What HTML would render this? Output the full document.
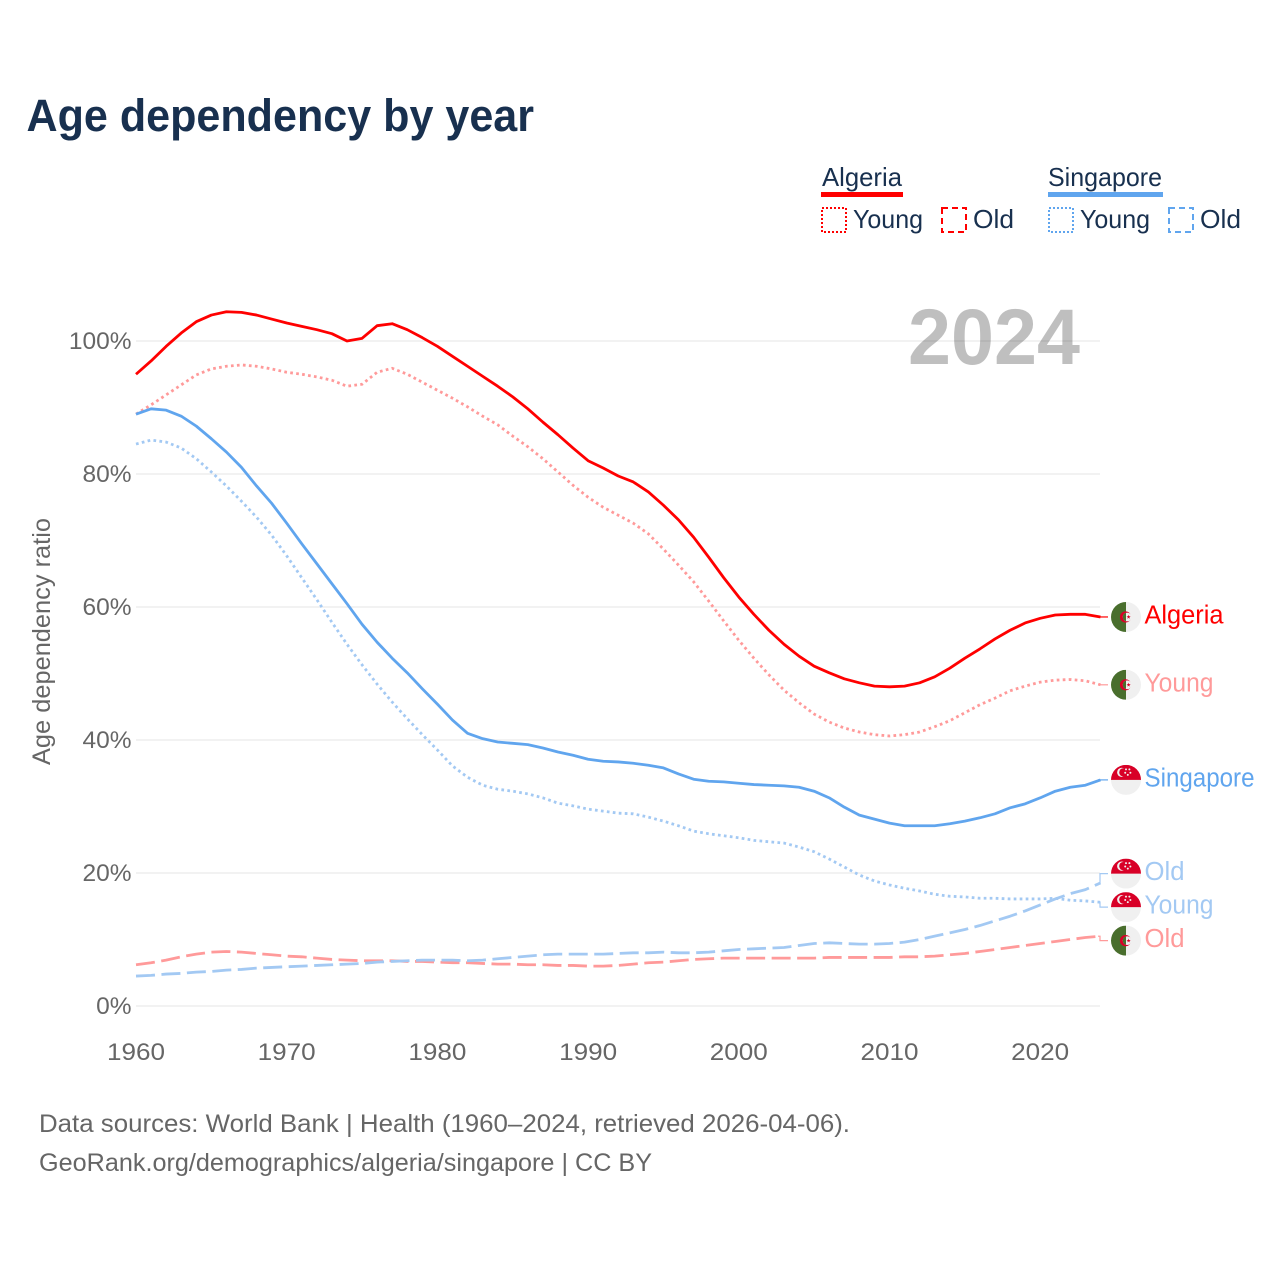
<!DOCTYPE html>
<html lang="en">
<head>
<meta charset="utf-8">
<title>Age dependency by year</title>
<style>
html,body{margin:0;padding:0;background:#fff}
svg{display:block}
text{font-family:"Liberation Sans",sans-serif}
</style>
</head>
<body>
<svg id="chart" width="1280" height="1280" viewBox="0 0 1280 1280" xmlns="http://www.w3.org/2000/svg">
<defs>
<clipPath id="flag-clip"><circle cx="0" cy="0" r="15"></circle></clipPath>
</defs>
<text x="26.5" y="131" font-size="45" font-weight="700" fill="#18304f" textLength="507.5" lengthAdjust="spacingAndGlyphs">Age dependency by year</text>

<g>
<text x="822" y="186" font-size="26" fill="#18304f" textLength="80" lengthAdjust="spacingAndGlyphs">Algeria</text>
<rect x="821" y="192" width="82" height="5" fill="#ff0000"></rect>
<rect x="822" y="208" width="24" height="24" fill="none" stroke="#ff0000" stroke-width="2" stroke-dasharray="2 2"></rect>
<text x="853" y="228" font-size="26" fill="#18304f" textLength="70" lengthAdjust="spacingAndGlyphs">Young</text>
<rect x="942" y="208" width="24" height="24" fill="none" stroke="#ff0000" stroke-width="2" stroke-dasharray="6 4"></rect>
<text x="973" y="228" font-size="26" fill="#18304f" textLength="41" lengthAdjust="spacingAndGlyphs">Old</text>

<text x="1048" y="186" font-size="26" fill="#18304f" textLength="114" lengthAdjust="spacingAndGlyphs">Singapore</text>
<rect x="1048" y="192" width="115" height="5" fill="#60a5ee"></rect>
<rect x="1049" y="208" width="24" height="24" fill="none" stroke="#60a5ee" stroke-width="2" stroke-dasharray="2 2"></rect>
<text x="1080" y="228" font-size="26" fill="#18304f" textLength="70" lengthAdjust="spacingAndGlyphs">Young</text>
<rect x="1169" y="208" width="24" height="24" fill="none" stroke="#60a5ee" stroke-width="2" stroke-dasharray="6 4"></rect>
<text x="1200" y="228" font-size="26" fill="#18304f" textLength="41" lengthAdjust="spacingAndGlyphs">Old</text>
</g>

<g id="grid"></g>
<g id="yticks"></g>
<g id="xticks"></g>
<text transform="translate(50,641.5) rotate(-90)" text-anchor="middle" font-size="25" fill="#666666" textLength="247" lengthAdjust="spacingAndGlyphs">Age dependency ratio</text>
<text x="908" y="364" font-size="79" font-weight="700" fill="#000000" fill-opacity="0.25" textLength="172" lengthAdjust="spacingAndGlyphs">2024</text>
<g id="series"></g>
<g id="labels"></g>

<text x="39" y="1132" font-size="25" fill="#666666" textLength="811" lengthAdjust="spacingAndGlyphs">Data sources: World Bank | Health (1960–2024, retrieved 2026-04-06).</text>
<text x="39" y="1171" font-size="25" fill="#666666" textLength="613" lengthAdjust="spacingAndGlyphs">GeoRank.org/demographics/algeria/singapore | CC BY</text>
</svg>

<script>
const firstYear = 1960;
const yTickValues = [0, 20, 40, 60, 80, 100];
const xTickValues = [1960, 1970, 1980, 1990, 2000, 2010, 2020];

const algeriaTotal = [95.0,97.0,99.2,101.2,102.9,103.9,104.4,104.3,103.9,103.3,102.7,102.2,101.7,101.1,100.0,100.4,102.3,102.6,101.7,100.5,99.2,97.7,96.2,94.7,93.2,91.6,89.8,87.8,85.9,83.9,82.0,80.9,79.7,78.8,77.3,75.3,73.1,70.5,67.5,64.4,61.5,58.9,56.5,54.4,52.6,51.1,50.1,49.2,48.6,48.1,48.0,48.1,48.6,49.5,50.8,52.3,53.7,55.2,56.5,57.6,58.3,58.8,58.9,58.9,58.5];
const algeriaYoung = [89.0,90.4,91.9,93.4,94.9,95.8,96.2,96.4,96.2,95.8,95.3,95.0,94.6,94.1,93.2,93.5,95.3,95.9,95.0,93.8,92.6,91.4,90.1,88.7,87.4,85.7,84.1,82.3,80.3,78.3,76.5,75.0,73.8,72.6,71.0,68.7,66.3,63.8,60.9,57.9,55.0,52.3,49.8,47.5,45.6,43.9,42.7,41.8,41.2,40.8,40.6,40.8,41.2,42.0,42.9,44.1,45.3,46.3,47.4,48.1,48.7,49.0,49.1,48.9,48.3];
const algeriaOld = [6.2,6.5,6.9,7.4,7.8,8.1,8.2,8.1,7.9,7.7,7.5,7.4,7.2,7.0,6.9,6.8,6.8,6.8,6.7,6.7,6.6,6.5,6.5,6.4,6.3,6.3,6.2,6.2,6.1,6.1,6.0,6.0,6.1,6.3,6.5,6.6,6.8,7.0,7.1,7.2,7.2,7.2,7.2,7.2,7.2,7.2,7.3,7.3,7.3,7.3,7.3,7.4,7.4,7.5,7.7,7.9,8.2,8.5,8.8,9.1,9.4,9.7,10.0,10.3,10.5];
const singaporeTotal = [89.0,89.8,89.6,88.7,87.2,85.3,83.3,81.0,78.2,75.6,72.6,69.5,66.5,63.5,60.5,57.4,54.7,52.3,50.1,47.7,45.4,43.0,41.0,40.2,39.7,39.5,39.3,38.8,38.2,37.7,37.1,36.8,36.7,36.5,36.2,35.8,34.9,34.1,33.8,33.7,33.5,33.3,33.2,33.1,32.9,32.3,31.3,29.9,28.7,28.1,27.5,27.1,27.1,27.1,27.4,27.8,28.3,28.9,29.8,30.4,31.3,32.3,32.9,33.2,34.0];
const singaporeYoung = [84.5,85.1,84.8,83.9,82.3,80.3,78.2,75.9,73.5,70.8,67.7,64.4,61.1,57.7,54.4,51.3,48.4,45.7,43.2,40.8,38.5,36.1,34.4,33.2,32.6,32.3,31.9,31.3,30.5,30.1,29.6,29.3,29.0,28.9,28.4,27.8,27.1,26.3,25.9,25.6,25.3,24.9,24.7,24.5,23.9,23.2,22.1,20.9,19.7,18.8,18.2,17.7,17.3,16.8,16.5,16.4,16.2,16.2,16.1,16.1,16.1,16.2,15.9,15.8,15.6];
const singaporeOld = [4.5,4.6,4.8,4.9,5.1,5.2,5.4,5.5,5.7,5.8,5.9,6.0,6.1,6.2,6.3,6.4,6.6,6.7,6.8,6.9,6.9,6.9,6.8,6.9,7.1,7.3,7.5,7.7,7.8,7.8,7.8,7.8,7.9,8.0,8.0,8.1,8.0,8.0,8.1,8.3,8.5,8.6,8.7,8.8,9.1,9.4,9.5,9.4,9.3,9.3,9.4,9.6,10.0,10.5,11.0,11.5,12.1,12.8,13.5,14.3,15.2,16.1,16.9,17.5,18.5];

const NS = 'http://www.w3.org/2000/svg';
function xScale(year) { return 136 + (year - 1960) * 15.07; }
function yScale(v) { return 1006 - v * 6.65; }
function make(parent, tag, attrs, text) {
  const e = document.createElementNS(NS, tag);
  for (const k in attrs) e.setAttribute(k, attrs[k]);
  if (text !== undefined) e.textContent = text;
  parent.appendChild(e);
  return e;
}

const gridG = document.getElementById('grid');
const yTickG = document.getElementById('yticks');
yTickValues.forEach(function (v) {
  const line = make(gridG, 'line', { x1: 136, x2: 1100, y1: yScale(v), y2: yScale(v), stroke: '#eeeeee', 'stroke-width': 1.6 });
  
  
  const t = make(yTickG, 'text', { x: 131.5, y: yScale(v) + 7.8, 'text-anchor': 'end', 'font-size': 24.5, fill: '#666666' }, v + '%');
  
  
});
const xTickG = document.getElementById('xticks');
xTickValues.forEach(function (y) {
  const t = make(xTickG, 'text', { x: xScale(y), y: 1060, 'text-anchor': 'middle', 'font-size': 24.5, fill: '#666666', textLength: 58, lengthAdjust: 'spacingAndGlyphs' }, String(y));
  
  
});

const seriesG = document.getElementById('series');
function drawLine(values, color, dash, name) {
  const d = values.map(function (v, i) {
    return (i ? 'L' : 'M') + xScale(firstYear + i).toFixed(2) + ' ' + yScale(v).toFixed(2);
  }).join('');
  const attrs = { d: d, fill: 'none', stroke: color, 'stroke-width': 2.8, 'stroke-linejoin': 'round' };
  if (dash) attrs['stroke-dasharray'] = dash;
  const p = make(seriesG, 'path', attrs);
  
  
}
const RED = '#ff0000', RED_PALE = '#ff9a9a', BLUE = '#60a5ee', BLUE_PALE = '#a3c9f3';
const DOT = '2.7 3.3', DASH = '19 6.5';
drawLine(algeriaOld, RED_PALE, DASH, 'line-algeria-old');
drawLine(singaporeOld, BLUE_PALE, DASH, 'line-singapore-old');
drawLine(singaporeYoung, BLUE_PALE, DOT, 'line-singapore-young');
drawLine(algeriaYoung, RED_PALE, DOT, 'line-algeria-young');
drawLine(singaporeTotal, BLUE, null, 'line-singapore-total');
drawLine(algeriaTotal, RED, null, 'line-algeria-total');

/* end labels: stacked with collision avoidance */
const GAP = 33.5;
const ends = [
  { text: 'Algeria', values: algeriaTotal, color: RED, flag: 'dz', w: 79, name: 'algeria-total' },
  { text: 'Young', values: algeriaYoung, color: RED_PALE, flag: 'dz', w: 69, name: 'algeria-young' },
  { text: 'Singapore', values: singaporeTotal, color: BLUE, flag: 'sg', w: 110, name: 'singapore-total' },
  { text: 'Old', values: singaporeOld, color: BLUE_PALE, flag: 'sg', w: 40, name: 'singapore-old' },
  { text: 'Young', values: singaporeYoung, color: BLUE_PALE, flag: 'sg', w: 69, name: 'singapore-young' },
  { text: 'Old', values: algeriaOld, color: RED_PALE, flag: 'dz', w: 40, name: 'algeria-old' }
];
ends.forEach(function (e) { e.endY = yScale(e.values[e.values.length - 1]); });
const sorted = ends.slice().sort(function (a, b) { return a.endY - b.endY; });
let clusters = sorted.map(function (e) { return { items: [e], mean: e.endY }; });
let merged = true;
while (merged) {
  merged = false;
  for (let i = 0; i < clusters.length - 1; i++) {
    const a = clusters[i], b = clusters[i + 1];
    const aBottom = a.mean + (a.items.length - 1) * GAP / 2;
    const bTop = b.mean - (b.items.length - 1) * GAP / 2;
    if (bTop - aBottom < GAP) {
      const items = a.items.concat(b.items);
      const mean = items.reduce(function (s, e) { return s + e.endY; }, 0) / items.length;
      clusters.splice(i, 2, { items: items, mean: mean });
      merged = true;
      break;
    }
  }
}
clusters.forEach(function (c) {
  c.items.forEach(function (e, i) {
    e.labelY = c.mean + (i - (c.items.length - 1) / 2) * GAP;
  });
});

function drawFlag(parent, kind, cy) {
  const g = make(parent, 'g', { transform: 'translate(1126,' + cy.toFixed(2) + ')' });
  const clip = make(g, 'g', { 'clip-path': 'url(#flag-clip)' });
  make(clip, 'rect', { x: -15, y: -15, width: 30, height: 30, fill: '#f0f0f0' });
  if (kind === 'dz') {
    make(clip, 'rect', { x: -15, y: -15, width: 15, height: 30, fill: '#496e2d' });
    make(clip, 'circle', { cx: -0.5, cy: 0, r: 5.6, fill: '#d80027' });
    make(clip, 'circle', { cx: 1.2, cy: 0, r: 4.4, fill: '#f0f0f0' });
    make(clip, 'path', { d: 'M0 -4.23A4.4 4.4 0 0 0 0 4.23Z', fill: '#496e2d' });
    make(clip, 'polygon', { points: '2.6,-2.2 3.1,-0.7 4.7,-0.7 3.4,0.3 3.9,1.8 2.6,0.9 1.3,1.8 1.8,0.3 0.5,-0.7 2.1,-0.7', fill: '#d80027' });
  } else {
    make(clip, 'rect', { x: -15, y: -15, width: 30, height: 15, fill: '#d80027' });
    make(clip, 'circle', { cx: -4.3, cy: -7.5, r: 4.6, fill: '#f0f0f0' });
    make(clip, 'circle', { cx: -2.6, cy: -7.5, r: 4.2, fill: '#d80027' });
    [[0, -10.5], [3.4, -10.5], [-0.8, -7.2], [4.4, -7.2], [1.8, -5]].forEach(function (pt) {
      make(clip, 'circle', { cx: pt[0], cy: pt[1], r: 1, fill: '#f0f0f0' });
    });
  }
  return g;
}

const labelsG = document.getElementById('labels');
ends.forEach(function (e) {
  const conn = make(labelsG, 'path', {
    d: 'M1098 ' + e.endY.toFixed(2) + 'H1100V' + e.labelY.toFixed(2) + 'H1108',
    fill: 'none', stroke: e.color, 'stroke-width': 1.2
  });
  
  
  const flag = drawFlag(labelsG, e.flag, e.labelY);
  
  
  const t = make(labelsG, 'text', {
    x: 1144.5, y: e.labelY + 6.5, 'font-size': 25.5, fill: e.color,
    textLength: e.w, lengthAdjust: 'spacingAndGlyphs'
  }, e.text);
  
  
});
</script>
</body>
</html>
